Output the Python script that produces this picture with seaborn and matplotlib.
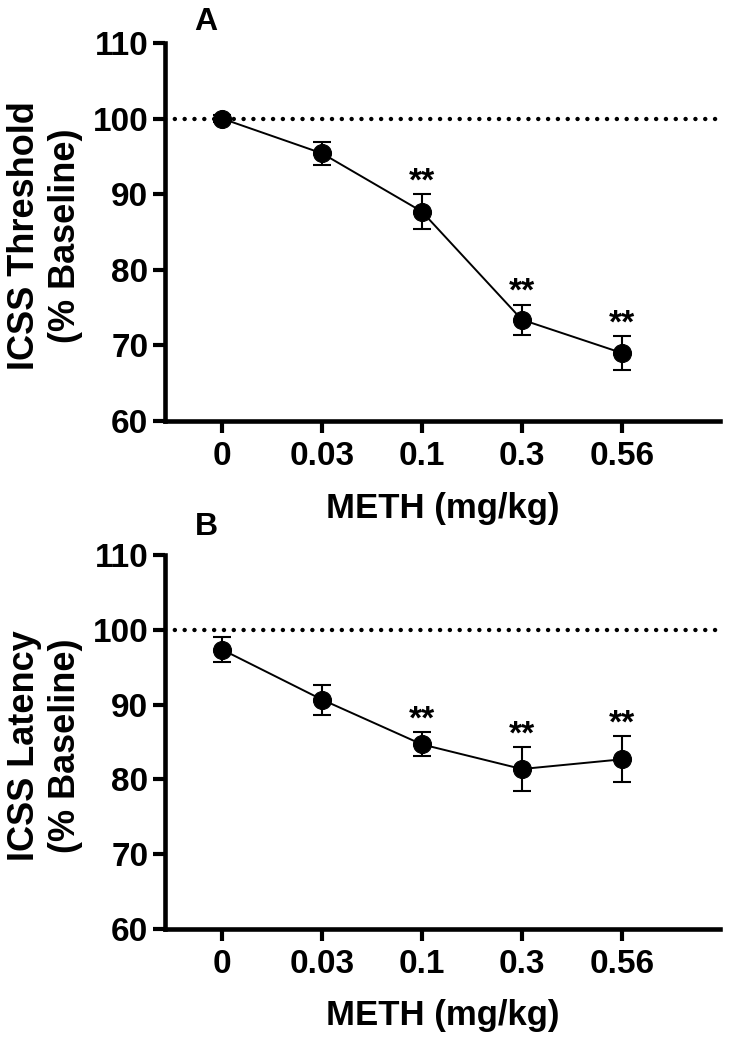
import matplotlib
matplotlib.use("Agg")
import matplotlib.pyplot as plt
import seaborn as sns
import numpy as np
import pandas as pd

doses = ["0", "0.03", "0.1", "0.3", "0.56"]
threshold_mean = [100.0, 95.4, 87.7, 73.4, 69.0]
threshold_sem = [0.4, 1.5, 2.3, 2.0, 2.25]
threshold_sig = [False, False, True, True, True]
latency_mean = [97.4, 90.7, 84.7, 81.4, 82.7]
latency_sem = [1.7, 2.0, 1.6, 2.9, 3.1]
latency_sig = [False, False, True, True, True]

sns.set_style("ticks")
plt.rcParams['font.family'] = ['Liberation Sans', 'DejaVu Sans']
plt.rcParams['font.weight'] = 'bold'
for k in ['text.color', 'axes.labelcolor', 'xtick.color', 'ytick.color', 'axes.edgecolor']:
    plt.rcParams[k] = 'black'

fig = plt.figure(figsize=(7.33, 10.46), dpi=100)
axA = fig.add_axes([0.225, 0.5975, 0.757, 0.3615])
axB = fig.add_axes([0.225, 0.112, 0.757, 0.357])

panels = [
    (axA, threshold_mean, threshold_sem, threshold_sig, "ICSS Threshold\n(% Baseline)", "A", 0.979),
    (axB, latency_mean, latency_sem, latency_sig, "ICSS Latency\n(% Baseline)", "B", 0.496),
]

for ax, means, sems, sig, ylab, letter, ly in panels:
    pos = np.arange(len(doses))
    df = pd.DataFrame({"pos": pos, "mean": means})
    ax.axhline(100, color="black", lw=3.2, linestyle=(0, (0.01, 2.2)),
               dash_capstyle="round", zorder=1)
    ax.errorbar(pos, means, yerr=sems, fmt="none", ecolor="black",
                elinewidth=1.5, capsize=6.5, capthick=1.5, zorder=2)
    sns.lineplot(data=df, x="pos", y="mean", ax=ax, color="black", lw=1.4,
                 marker="o", markersize=13, markeredgecolor="black",
                 markerfacecolor="black", zorder=3, clip_on=False)
    for p, m, s, g in zip(pos, means, sems, sig):
        if g:
            ax.text(p, m + s + 0.5, "**", ha="center", va="baseline",
                    fontsize=24, fontweight="bold")
    ax.set_xlim(-0.57, 4.98)
    ax.set_ylim(60, 110)
    ax.set_xticks(pos)
    ax.set_xticklabels(doses)
    ax.set_yticks([60, 70, 80, 90, 100, 110])
    ax.tick_params(axis="both", width=3.0, length=8.5, labelsize=24)
    ax.tick_params(axis="x", pad=6)
    ax.tick_params(axis="y", pad=3.5)
    for lab in ax.get_xticklabels() + ax.get_yticklabels():
        lab.set_fontweight("bold")
    for sp in ["left", "bottom"]:
        ax.spines[sp].set_linewidth(3.3)
    sns.despine(ax=ax)
    ax.set_xlabel("METH (mg/kg)", fontsize=25, fontweight="bold", labelpad=14)
    ax.set_ylabel(ylab, fontsize=26, fontweight="bold", linespacing=1.22)
    ax.yaxis.set_label_coords(-0.148, 0.49)
    fig.text(0.281, ly, letter, fontsize=23, fontweight="bold",
             ha="center", va="center")

fig.savefig("out.png", dpi=100)
